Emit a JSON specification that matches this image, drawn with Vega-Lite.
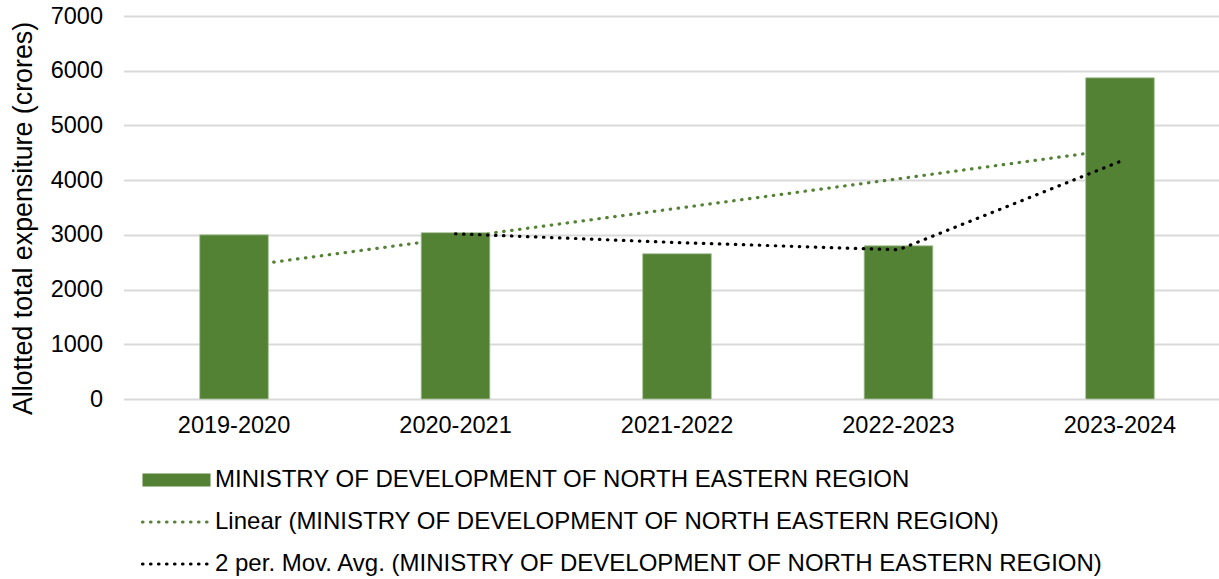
{
  "$schema": "https://vega.github.io/schema/vega-lite/v6.json",
  "autosize": {"type": "none"},
  "padding": {"left": 123.5, "top": 16, "right": 0, "bottom": 180},
  "width": 1107,
  "height": 383,
  "background": "white",
  "config": {
    "font": "Liberation Sans",
    "view": {"stroke": null},
    "axis": {"labelFont": "Liberation Sans", "titleFont": "Liberation Sans", "labelColor": "#000000", "titleColor": "#000000"}
  },
  "data": {
    "values": [
      {"year": "2019-2020", "value": 3000, "trend": 2405, "mavg": null},
      {"year": "2020-2021", "value": 3040, "trend": 2945, "mavg": 3020},
      {"year": "2021-2022", "value": 2655, "trend": 3485, "mavg": 2860},
      {"year": "2022-2023", "value": 2800, "trend": 4025, "mavg": 2727},
      {"year": "2023-2024", "value": 5870, "trend": 4570, "mavg": 4340}
    ]
  },
  "encoding": {
    "x": {
      "field": "year",
      "type": "nominal",
      "sort": null,
      "scale": {"paddingInner": 0.69, "paddingOuter": 0.344},
      "axis": {
        "title": null,
        "labelAngle": 0,
        "labelFontSize": 23.5,
        "labelPadding": 14,
        "domain": false,
        "ticks": false,
        "grid": false
      }
    }
  },
  "layer": [
    {
      "mark": {"type": "line", "strokeWidth": 3.2, "strokeDash": [0.5, 7.5], "strokeCap": "round"},
      "encoding": {
        "y": {
          "field": "trend",
          "type": "quantitative",
          "scale": {"domain": [0, 7000], "nice": false},
          "axis": {
            "title": "Allotted total expensiture (crores)",
            "titleFontSize": 26.8,
            "titleFontWeight": "normal",
            "titleX": -86.5,
            "titleY": 202,
            "titleBaseline": "bottom",
            "titleAngle": -90,
            "values": [0, 1000, 2000, 3000, 4000, 5000, 6000, 7000],
            "format": "d",
            "labelFontSize": 23.5,
            "labelPadding": 21,
            "domain": false,
            "ticks": false,
            "grid": true,
            "gridColor": "#d9d9d9",
            "gridWidth": 2
          }
        },
        "color": {
          "datum": "Linear (MINISTRY OF DEVELOPMENT OF NORTH EASTERN REGION)",
          "type": "nominal",
          "scale": {
            "domain": [
              "MINISTRY OF DEVELOPMENT OF NORTH EASTERN REGION",
              "Linear (MINISTRY OF DEVELOPMENT OF NORTH EASTERN REGION)",
              "2 per. Mov. Avg. (MINISTRY OF DEVELOPMENT OF NORTH EASTERN REGION)"
            ],
            "range": ["#548235", "#548235", "#000000"]
          },
          "legend": {
            "title": null,
            "orient": "none",
            "legendX": 15.5,
            "legendY": 452,
            "direction": "vertical",
            "padding": 0,
            "labelFontSize": 24,
            "labelFont": "Liberation Sans",
            "labelColor": "#000000",
            "labelLimit": 1200,
            "labelOffset": 52,
            "symbolSize": 289,
            "rowPadding": 18,
            "symbolStrokeWidth": 3,
            "encode": {
              "symbols": {
                "update": {
                  "shape": {"signal": "datum.value === 'MINISTRY OF DEVELOPMENT OF NORTH EASTERN REGION' ? 'M-1,-0.76H7V0.76H-1Z' : 'M-1,0H7'"},
                  "fill": {"signal": "datum.value === 'MINISTRY OF DEVELOPMENT OF NORTH EASTERN REGION' ? '#548235' : 'transparent'"},
                  "stroke": {"signal": "datum.value === 'MINISTRY OF DEVELOPMENT OF NORTH EASTERN REGION' ? 'transparent' : (datum.value === 'Linear (MINISTRY OF DEVELOPMENT OF NORTH EASTERN REGION)' ? '#548235' : '#000000')"},
                  "strokeDash": {"value": [0.5, 7.5]},
                  "strokeCap": {"value": "round"},
                  "strokeWidth": {"signal": "datum.value === 'MINISTRY OF DEVELOPMENT OF NORTH EASTERN REGION' ? 0 : 3.2"},
                  "opacity": {"value": 1}
                }
              }
            }
          }
        }
      }
    },
    {
      "mark": {"type": "bar", "stroke": "#a9c49a", "strokeWidth": 0.8},
      "encoding": {
        "y": {"field": "value", "type": "quantitative"},
        "color": {"datum": "MINISTRY OF DEVELOPMENT OF NORTH EASTERN REGION", "type": "nominal"}
      }
    },
    {
      "transform": [{"filter": "datum.mavg != null"}],
      "mark": {"type": "line", "strokeWidth": 3.2, "strokeDash": [0.5, 7.5], "strokeCap": "round"},
      "encoding": {
        "y": {"field": "mavg", "type": "quantitative"},
        "color": {"datum": "2 per. Mov. Avg. (MINISTRY OF DEVELOPMENT OF NORTH EASTERN REGION)", "type": "nominal"}
      }
    }
  ]
}
